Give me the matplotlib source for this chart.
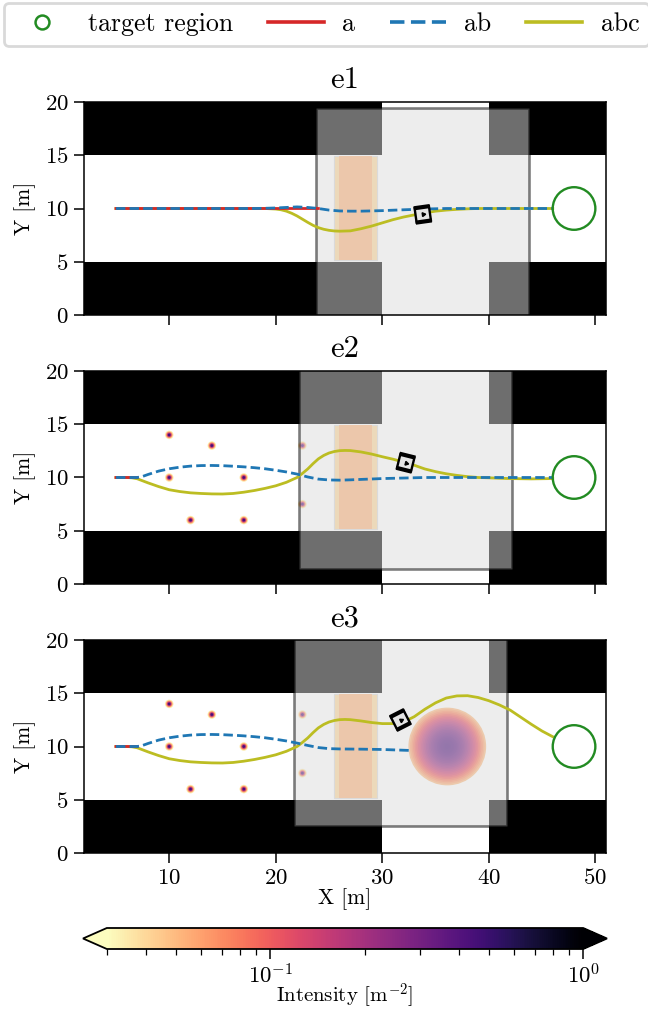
import matplotlib
matplotlib.use('Agg')
import matplotlib.pyplot as plt
import matplotlib.patches as mpatches
from matplotlib.colors import LogNorm
from matplotlib.cm import ScalarMappable
from matplotlib.lines import Line2D
from matplotlib.ticker import NullFormatter
from matplotlib.transforms import Affine2D

plt.rcParams['font.family'] = ['cmr10', 'DejaVu Sans']
plt.rcParams['mathtext.fontset'] = 'cm'
plt.rcParams['axes.formatter.use_mathtext'] = True
plt.rcParams['axes.unicode_minus'] = False

W, H = 648, 1009

# walls: x0, x1, y0, y1
wall_x0 = [2, 40, 2, 40]
wall_x1 = [30, 51, 30, 51]
wall_y0 = [0, 0, 15, 15]
wall_y1 = [5, 5, 20, 20]

# crossing zone
zone_x = [25.5, 29.5, 5.2, 14.9]
band_width = 0.48
zone_intensity = 0.053
band_intensity = 0.04

ped_x = [10, 14, 10, 17, 12, 17, 22.5, 22.5]
ped_y = [14, 13, 10, 10, 6, 6, 13, 7.5]

titles = ['e1', 'e2', 'e3']
robot_x = [33.8, 32.2, 31.7]
robot_y = [9.45, 11.39, 12.49]
robot_angle = [8, -14, 27]

a_x = [[5, 24], [5, 7], [5, 7]]
a_y = [[10, 10], [10, 10], [10, 10]]

ab_x1 = [5, 10, 15, 18, 19, 20, 21, 22, 23, 24, 25, 26, 27, 28, 30, 32, 34, 36, 46]
ab_y1 = [10, 10, 10, 10, 10.02, 10.05, 10.1, 10.15, 10.1, 10, 9.85, 9.77, 9.75, 9.75, 9.8, 9.88, 9.95, 10, 10]
ab_x2 = [5, 6, 7, 7.5, 8, 9, 10, 11, 12, 13, 14, 15, 16, 17, 18, 19, 20, 21, 22, 23, 24, 25, 26, 27, 28, 30, 32, 34, 46]
ab_y2 = [10, 10, 10, 10.1, 10.28, 10.6, 10.82, 10.97, 11.07, 11.12, 11.13, 11.11, 11.06, 11, 10.92, 10.82, 10.68,
         10.52, 10.32, 10.05, 9.85, 9.77, 9.75, 9.78, 9.82, 9.9, 9.95, 10, 10]
ab_x3 = [5, 6, 7, 7.5, 8, 9, 10, 11, 12, 13, 14, 15, 16, 17, 18, 19, 20, 21, 22, 23, 24, 25, 26, 28, 30, 32, 32.6]
ab_y3 = [10, 10, 10, 10.1, 10.28, 10.6, 10.82, 10.97, 11.07, 11.12, 11.13, 11.11, 11.06, 11, 10.92, 10.82, 10.68,
         10.52, 10.32, 10.1, 9.9, 9.8, 9.77, 9.75, 9.72, 9.65, 9.63]

abc_x1 = [5, 18, 19, 20, 20.5, 21, 21.5, 22, 22.5, 23, 23.5, 24, 24.5, 25, 25.5, 26, 27, 28, 29, 30, 31, 32, 33, 34,
          35, 36, 37, 38, 39, 46]
abc_y1 = [10, 10, 10, 9.95, 9.88, 9.75, 9.55, 9.3, 9.0, 8.7, 8.42, 8.2, 8.05, 7.95, 7.89, 7.87, 7.9, 8.1, 8.35, 8.65,
          8.95, 9.2, 9.4, 9.6, 9.75, 9.85, 9.92, 9.97, 10, 10]
abc_x2 = [5, 6, 6.5, 7, 8, 9, 10, 11, 12, 13, 14, 15, 16, 17, 18, 19, 20, 21, 22, 22.5, 23, 23.5, 24, 24.5, 25, 25.5,
          26, 26.5, 27, 28, 29, 30, 31, 32, 33, 34, 35, 36, 37, 38, 39, 40, 41, 42, 44, 46]
abc_y2 = [10, 10, 9.97, 9.88, 9.5, 9.15, 8.85, 8.68, 8.56, 8.5, 8.46, 8.45, 8.5, 8.62, 8.78, 8.98, 9.22, 9.55, 10.0,
          10.38, 10.8, 11.3, 11.75, 12.07, 12.3, 12.44, 12.52, 12.54, 12.53, 12.4, 12.2, 11.95, 11.72, 11.45, 11.15,
          10.8, 10.55, 10.35, 10.2, 10.08, 10, 9.97, 9.93, 9.9, 9.87, 9.9]
abc_x3 = [5, 6, 6.5, 7, 8, 9, 10, 11, 12, 13, 14, 15, 16, 17, 18, 19, 20, 21, 22, 22.5, 23, 23.5, 24, 24.5, 25, 25.5,
          26, 26.5, 27, 28, 29, 30, 31, 32, 33, 34, 35, 36, 37, 38, 39, 40, 41, 42, 43, 44, 45, 46]
abc_y3 = [10, 10, 9.97, 9.88, 9.5, 9.15, 8.85, 8.68, 8.56, 8.5, 8.46, 8.45, 8.5, 8.62, 8.78, 8.98, 9.22, 9.55, 10.0,
          10.38, 10.8, 11.3, 11.75, 12.07, 12.3, 12.44, 12.52, 12.54, 12.52, 12.4, 12.25, 12.15, 12.15, 12.3, 12.8,
          13.5, 14.1, 14.55, 14.75, 14.77, 14.6, 14.3, 13.9, 13.42, 12.75, 12.08, 11.45, 10.92]

ab_xs = [ab_x1, ab_x2, ab_x3]
ab_ys = [ab_y1, ab_y2, ab_y3]
abc_xs = [abc_x1, abc_x2, abc_x3]
abc_ys = [abc_y1, abc_y2, abc_y3]

# intensity of the disc in e3, ring by ring from the rim inwards
disc_center = (36.1, 10)
ring_r = [3.65, 3.5, 3.35, 3.2, 3.05, 2.9, 2.75, 2.6, 2.45, 2.3, 2.15, 2.0, 1.85, 1.7, 1.55, 1.4, 1.25, 1.1, 0.95,
          0.8, 0.65, 0.5, 0.35, 0.2]
ring_v = [0.05, 0.06, 0.07, 0.082, 0.095, 0.11, 0.125, 0.14, 0.158, 0.177, 0.197, 0.22, 0.242, 0.265, 0.288, 0.31,
          0.33, 0.35, 0.37, 0.385, 0.40, 0.41, 0.42, 0.43]

ped_ring_r = [0.4, 0.31, 0.22, 0.13]
ped_ring_v = [0.035, 0.065, 0.16, 0.45]

target_xy = (48, 10)
target_r = 2

cbar_min, cbar_max = 0.03, 1.0
cmap = plt.get_cmap('magma_r').copy()
norm = LogNorm(vmin=cbar_min, vmax=cbar_max)

RED = '#d62728'
BLUE = '#1f77b4'
OLIVE = '#bcbd22'
GREEN = '#228b22'
LW = 2.0
DASH = (0, (3.4, 1.5))
LEG_DASH = (0, (4, 1.8))


def px_axes(fig, left, top, right, bottom):
    """Axes from pixel edges, y counted from the top."""
    return fig.add_axes([left / W, 1 - bottom / H, (right - left) / W, (bottom - top) / H])


def draw_robot(ax, x, y, angle):
    rot = Affine2D().rotate_deg_around(x, y, angle) + ax.transData
    s = 0.68
    body = mpatches.Rectangle((x - s, y - s), 2 * s, 2 * s, facecolor='#e4e4e4', edgecolor='black',
                              linewidth=1.7, transform=rot, zorder=6)
    ax.add_patch(body)
    for sign in (-1, 1):
        ax.plot([x - s - 0.08, x + s + 0.08], [y + sign * s, y + sign * s], color='black', lw=3.0,
                solid_capstyle='butt', transform=rot, zorder=7)
    ax.plot([x + 0.05], [y], marker=(3, 0, angle - 90), color='black', ms=3.2, linestyle='none', zorder=8)


fig = plt.figure(figsize=(W / 100, H / 100), dpi=100)

panel_top = [102, 371, 640]
panel_bottom = [315, 584, 853]

for i in range(3):
    ax = px_axes(fig, 84, panel_top[i], 606, panel_bottom[i])
    ax.set_xlim(2, 51)
    ax.set_ylim(0, 20)
    ax.set_xticks([10, 20, 30, 40, 50])
    ax.set_yticks([0, 5, 10, 15, 20])
    ax.tick_params(length=7, width=1.1, labelsize=16.5, pad=4)
    ax.set_title(titles[i], fontsize=22, pad=10)
    ax.set_ylabel('Y [m]', fontsize=15.5, labelpad=6)
    for sp in ax.spines.values():
        sp.set_linewidth(1.1)
        sp.set_zorder(10)

    for x0, x1, y0, y1 in zip(wall_x0, wall_x1, wall_y0, wall_y1):
        ax.add_patch(mpatches.Rectangle((x0, y0), x1 - x0, y1 - y0, color='black', lw=0, zorder=1))

    # crossing zone with lighter side bands
    zx0, zx1, zy0, zy1 = zone_x
    ax.add_patch(mpatches.Rectangle((zx0, zy0), zx1 - zx0, zy1 - zy0, facecolor=cmap(norm(band_intensity)),
                                    edgecolor='#d8d8d8', lw=0.8, zorder=2))
    ax.add_patch(mpatches.Rectangle((zx0 + band_width, zy0), zx1 - zx0 - 2 * band_width, zy1 - zy0,
                                    facecolor=cmap(norm(zone_intensity)), lw=0, zorder=2))

    if i > 0:
        for px, py in zip(ped_x, ped_y):
            for r, v in zip(ped_ring_r, ped_ring_v):
                ax.add_patch(mpatches.Circle((px, py), r, facecolor=cmap(norm(v)), lw=0, zorder=2))

    if i == 2:
        for r, v in zip(ring_r, ring_v):
            ax.add_patch(mpatches.Circle(disc_center, r, facecolor=cmap(norm(v)), lw=0, zorder=2))

    # local map window around the robot
    rx, ry = robot_x[i], robot_y[i]
    ax.add_patch(mpatches.Rectangle((rx - 10, ry - 10), 20, 20, facecolor='#dcdcdc', edgecolor='black',
                                    alpha=0.5, lw=1.9, zorder=3))

    ax.plot(abc_xs[i], abc_ys[i], color=OLIVE, lw=LW, zorder=4, snap=False)
    ax.plot(a_x[i], a_y[i], color=RED, lw=LW, zorder=4.2, snap=False)
    ax.plot(ab_xs[i], ab_ys[i], color=BLUE, lw=LW, linestyle=DASH, zorder=4.4, snap=False)
    ax.add_patch(mpatches.Circle(target_xy, target_r, fill=False, edgecolor=GREEN, lw=1.7, zorder=5))
    draw_robot(ax, rx, ry, robot_angle[i])

    if i < 2:
        ax.set_xticklabels([])
    else:
        ax.set_xlabel('X [m]', fontsize=15.5, labelpad=0)

handles = [
    Line2D([], [], color=GREEN, marker='o', mfc='none', mew=1.8, ms=10, linestyle='none'),
    Line2D([], [], color=RED, lw=2.6),
    Line2D([], [], color=BLUE, lw=2.6, linestyle=LEG_DASH),
    Line2D([], [], color=OLIVE, lw=2.6),
]
leg = fig.legend(handles, ['target region', 'a', 'ab', 'abc'], ncol=4, loc='upper left',
                 bbox_to_anchor=(4 / W, 1 - 3 / H), bbox_transform=fig.transFigure, borderaxespad=0,
                 fontsize=18.6, handlelength=2.17, handletextpad=0.72, columnspacing=1.33, borderpad=0.37,
                 frameon=True, framealpha=0.8, edgecolor='#d0d0d0')
leg.get_frame().set_linewidth(2)

cax = px_axes(fig, 83, 928, 607, 949)
cb = fig.colorbar(ScalarMappable(norm=norm, cmap=cmap), cax=cax, orientation='horizontal', extend='both')
cb.ax.xaxis.set_minor_formatter(NullFormatter())
cb.ax.tick_params(which='major', length=7, width=1.1, labelsize=16.5, pad=3)
cb.ax.tick_params(which='minor', length=4, width=0.9)
cb.outline.set_linewidth(1.3)
cb.set_label('Intensity [m$^{-2}$]', fontsize=15, labelpad=-4.5)

fig.savefig('out.png', dpi=100)
plt.close(fig)
